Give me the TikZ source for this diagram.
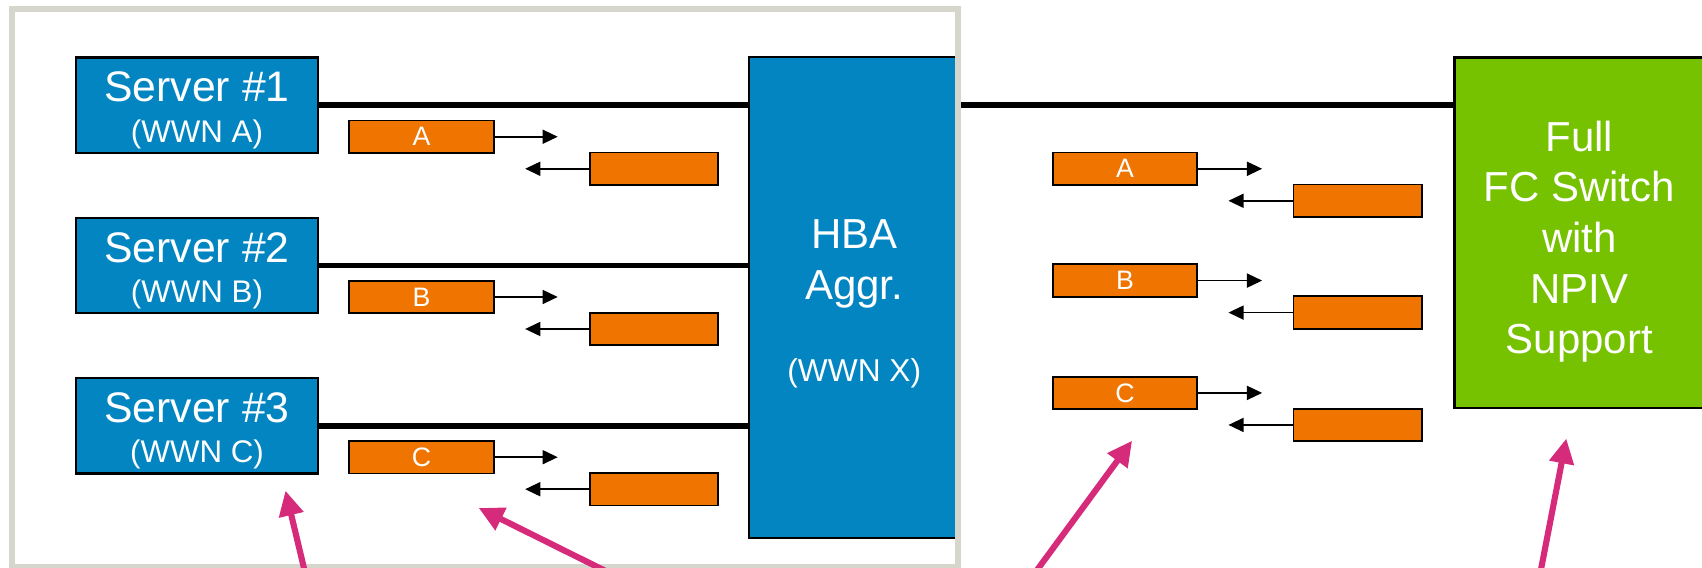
\documentclass[tikz,border=0pt]{standalone}
\usepackage{fontspec}
\setmainfont{Liberation Sans}
\usetikzlibrary{arrows.meta,positioning,calc}

\definecolor{srvblue}{RGB}{2,133,193}
\definecolor{tagorange}{RGB}{239,116,0}
\definecolor{swgreen}{RGB}{118,194,0}
\definecolor{calloutpink}{RGB}{214,42,122}
\definecolor{framegray}{RGB}{214,214,204}

\begin{document}
\begin{tikzpicture}[x=0.1mm, y=-0.1mm, >=Triangle,
  server/.style={draw, fill=srvblue, text=white, line width=0.6pt,
    minimum width=22.3mm, minimum height=8.8mm, align=center, inner sep=0pt,
    font=\fontsize{11.2}{10.6}\selectfont},
  hbabox/.style={draw, fill=srvblue, text=white, line width=0.6pt,
    minimum width=19.4mm, minimum height=44.3mm, align=center, inner sep=0pt,
    font=\fontsize{11}{13.3}\selectfont},
  fcswitch/.style={draw, fill=swgreen, text=white, line width=0.6pt,
    minimum width=23mm, minimum height=32.3mm, align=center, inner sep=0pt,
    font=\fontsize{11}{13.3}\selectfont},
  tag/.style={draw, fill=tagorange, text=white, line width=0.5pt,
    minimum width=13.3mm, minimum height=3mm, inner sep=0pt,
    font=\fontsize{7}{8}\selectfont},
  reply/.style={tag, minimum width=11.8mm},
  link/.style={line width=1.5pt},
  flow/.style={->, line width=0.4pt, >={Triangle[length=1.4mm, width=1.3mm]}},
  callout/.style={->, calloutpink, line width=1.6pt,
    >={Triangle[length=2.3mm, width=2.2mm]}}
]
\useasboundingbox (0,0) rectangle (1568,523);
\clip (0,0) rectangle (1568,523);

% servers and aggregator
\node[server] (srv1) at (181.5,97)
  {\rule{0pt}{10.5pt}Server \#1\\{\fontsize{8.2}{10.6}\selectfont (WWN A)}};
\node[server, below=5.75mm of srv1] (srv2)
  {\rule{0pt}{10.5pt}Server \#2\\{\fontsize{8.2}{10.6}\selectfont (WWN B)}};
\node[server, below=5.75mm of srv2] (srv3)
  {\rule{0pt}{10.5pt}Server \#3\\{\fontsize{8.2}{10.6}\selectfont (WWN C)}};
\node[hbabox] (hba) at (787,274)
  {\rule{0pt}{11pt}HBA\\Aggr.\\[8.3pt]{\fontsize{8.3}{10}\selectfont (WWN X)}};
\node[fcswitch] (fcsw) at (1455,214.5)
  {\rule{0pt}{12.6pt}Full\\FC Switch\\with\\NPIV\\Support};

\foreach \n in {1,2,3}
  \draw[link] (srv\n.east) -- (srv\n.east -| hba.west);
\draw[link] (hba.east |- srv1) -- (fcsw.west |- srv1);

% host side frame
\draw[framegray, line width=1.56pt] (11,8.3) rectangle (882.3,522.5);

% frames on the server links
\foreach \n/\w in {1/A,2/B,3/C}{
  \node[tag, anchor=west] (tagL\n) at ($(srv\n.east)+(27,29)$) {\w};
  \node[reply, anchor=west] (repL\n) at ($(tagL\n.east)+(87,29.5)$) {};
  \coordinate (outL\n) at ($(tagL\n.east)+(58,0)$);
  \coordinate (inL\n) at ($(repL\n.west)+(-59,0)$);
  \draw[flow] (tagL\n.east) -- (outL\n);
  \draw[flow] (repL\n.west) -- (inL\n);
}

% frames on the switch link
\foreach \n/\w/\y in {1/A/155.5,2/B/258.5,3/C/362}{
  \node[tag, anchor=west] (tagR\n) at (969,\y) {\w};
  \node[reply, anchor=west] (repR\n) at ($(tagR\n.east)+(87,29.5)$) {};
  \coordinate (outR\n) at ($(tagR\n.east)+(59,0)$);
  \coordinate (inR\n) at ($(repR\n.west)+(-59,0)$);
  \draw[flow] (tagR\n.east) -- (outR\n);
  \draw[flow] (repR\n.west) -- (inR\n);
}

% callouts
\coordinate (c1) at (263,452);   \coordinate (c1t) at (284,540);
\coordinate (c2) at (441,468);   \coordinate (c2t) at (586,540);
\coordinate (c3) at (1043,406);  \coordinate (c3t) at (944.5,540);
\coordinate (c4) at (1443,404);  \coordinate (c4t) at (1416.7,540);
\foreach \c in {1,2,3,4}
  \draw[callout] (c\c t) -- (c\c);
\end{tikzpicture}
\end{document}
